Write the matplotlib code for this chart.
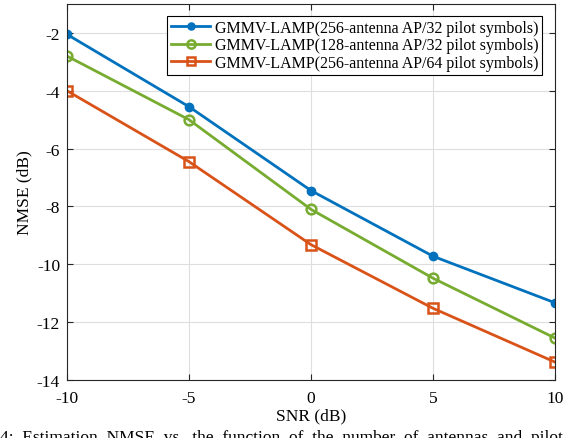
import numpy as np
import matplotlib.pyplot as plt

plt.rcParams['font.family'] = ['Liberation Serif', 'DejaVu Serif']
plt.rcParams['axes.unicode_minus'] = False

# NMSE (dB) versus SNR for the three antenna / pilot setups
snr = [-10, -5, 0, 5, 10]
nmse_256_32 = [-2.05, -4.55, -7.45, -9.72, -11.33]
nmse_128_32 = [-2.8, -5.0, -8.1, -10.48, -12.55]
nmse_256_64 = [-4.0, -6.45, -9.32, -11.52, -13.38]
labels = ['GMMV-LAMP(256-antenna AP/32 pilot symbols)',
          'GMMV-LAMP(128-antenna AP/32 pilot symbols)',
          'GMMV-LAMP(256-antenna AP/64 pilot symbols)']

fig = plt.figure(figsize=(5.8, 4.39), dpi=100)
ax = fig.add_axes([0.1155, 0.132, 0.8415, 0.8566])

ax.plot(snr, nmse_256_32, color='#0072BD', lw=2, marker='o', ms=6,
        label=labels[0])
ax.plot(snr, nmse_128_32, color='#77AC30', lw=2, marker='o', ms=7,
        mfc='none', mew=1.8, label=labels[1])
ax.plot(snr, nmse_256_64, color='#D95319', lw=2, marker='s', ms=6.5,
        mfc='none', mew=1.8, label=labels[2])

ax.set_xlim(-10, 10)
ax.set_ylim(-14, -1)
ax.set_xticks([-10, -5, 0, 5, 10])
ax.set_yticks([-14, -12, -10, -8, -6, -4, -2])
ax.grid(True, color='#dedede', lw=0.8)
ax.tick_params(direction='in', top=True, right=True, labelsize=12.5,
               length=4, color='#262626')
ax.tick_params(axis='x', pad=7)
ax.tick_params(axis='y', pad=5)
for sp in ax.spines.values():
    sp.set_color('#262626')
    sp.set_linewidth(0.8)

ax.set_xlabel('SNR (dB)', fontsize=12.5, labelpad=1)
ax.set_ylabel('NMSE (dB)', fontsize=12.5, labelpad=3)

leg = ax.legend(loc='upper right', fontsize=11.5, frameon=True, fancybox=False,
                edgecolor='black', framealpha=1, borderpad=0.25,
                labelspacing=0.1, handlelength=2.4, handletextpad=0.3,
                markerscale=0.85, borderaxespad=0.5,
                bbox_to_anchor=(0.99, 0.99))
leg.get_frame().set_linewidth(0.8)

fig.text(0.0, -0.016, '4:  Estimation  NMSE  vs.  the  function  of  the  number  of  antennas  and  pilot',
         fontsize=12.5, ha='left', va='bottom')

fig.savefig('out.png', dpi=100)
